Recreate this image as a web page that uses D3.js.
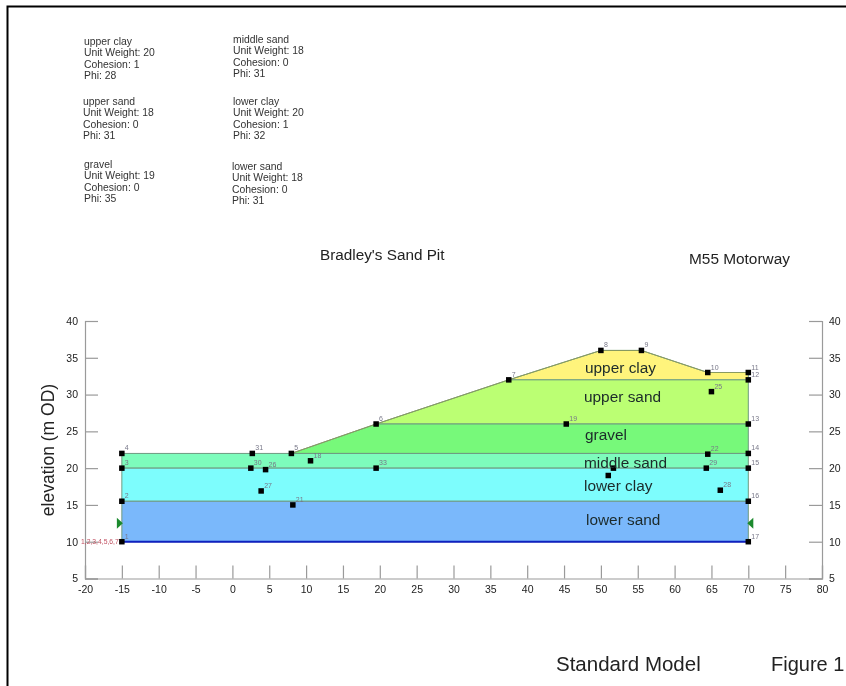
<!DOCTYPE html>
<html>
<head>
<meta charset="utf-8">
<style>
  html, body { margin: 0; padding: 0; background: #fff; }
  svg { display: block; font-family: "Liberation Sans", Arial, sans-serif; }
</style>
</head>
<body>
<script src="https://d3js.org/d3.v7.min.js"></script>
<svg id="chart" width="846" height="686">
  <defs><filter id="soft" x="0" y="0" width="100%" height="100%"><feGaussianBlur stdDeviation="0.45"/></filter></defs>
</svg>
<script>
// soil properties
const soilNames = ['upper clay', 'upper sand', 'gravel', 'middle sand', 'lower clay', 'lower sand'];
const unitWeights = [20, 18, 19, 18, 20, 18];
const cohesions = [1, 0, 0, 0, 1, 0];
const phis = [28, 31, 35, 31, 32, 31];
const soilColors = ['#fff47c', '#bbff73', '#77f97a', '#7dfcbc', '#7dfdfd', '#7ab8fb'];

// layer outlines, [x, elevation]
const upperClay = [[37.5, 32], [50, 36], [55.5, 36], [64.5, 33], [70, 33], [70, 32]];
const upperSand = [[19.5, 26], [37.5, 32], [70, 32], [70, 26]];
const gravel = [[8, 22], [19.5, 26], [70, 26], [70, 22]];
const middleSand = [[-15, 22], [70, 22], [70, 20], [-15, 20]];
const lowerClay = [[-15, 20], [70, 20], [70, 15.5], [-15, 15.5]];
const lowerSand = [[-15, 15.5], [70, 15.5], [70, 10], [-15, 10]];
const layers = [upperClay, upperSand, gravel, middleSand, lowerClay, lowerSand];
const groundSurface = [[8, 22], [19.5, 26], [37.5, 32], [50, 36], [55.5, 36], [64.5, 33], [70, 33]];
const baseLine = [[-15, 10], [70, 10]];

// numbered points, the two under the "middle sand" label show no number
const pointIds = [1, 2, 3, 4, 5, 6, 7, 8, 9, 10, 11, 12, 13, 14, 15, 16, 17, 18, 19, '', 21, 22, '', 25, 26, 27, 28, 29, 30, 31, 33];
const pointX = [-15, -15, -15, -15, 8, 19.5, 37.5, 50, 55.5, 64.5, 70, 70, 70, 70, 70, 70, 70, 10.6, 45.3, 51.7, 8.2, 64.5, 51, 65, 4.5, 3.9, 66.2, 64.3, 2.5, 2.7, 19.5];
const pointY = [10, 15.5, 20, 22, 22, 26, 32, 36, 36, 33, 33, 32, 26, 22, 20, 15.5, 10, 21, 26, 20, 15, 21.9, 19, 30.4, 19.8, 16.9, 17, 20, 20, 22, 20];

const xTicks = d3.range(-20, 81, 5);
const yTicks = d3.range(5, 41, 5);
const waterX = [-15, 70];
const waterY = [12.5, 12.5];

const svg = d3.select('#chart');
const x = d3.scaleLinear().domain([-20, 80]).range([85, 822]);
const y = d3.scaleLinear().domain([5, 40]).range([578.5, 321]);

// page frame
svg.append('path').attr('d', 'M846,6.5H7.5V686').attr('fill', 'none').attr('stroke', '#000').attr('stroke-width', 2);

const content = svg.append('g').attr('filter', 'url(#soft)');

// soil properties text
const noteX = [84, 83, 84, 233, 233, 232];
const noteY = [45, 105, 168, 43, 105, 170];
soilNames.forEach((name, i) => {
  const t = content.append('text').attr('font-size', 10.4).attr('fill', '#333');
  [name, 'Unit Weight: ' + unitWeights[i], 'Cohesion: ' + cohesions[i], 'Phi: ' + phis[i]].forEach((s, j) => {
    t.append('tspan').attr('x', noteX[i]).attr('y', noteY[i] + j * 11.3).text(s);
  });
});

// layers
const line = d3.line().x(d => x(d[0])).y(d => y(d[1]));
content.append('g').selectAll('path').data(layers).enter().append('path')
  .attr('d', d => line(d) + 'Z')
  .attr('fill', (d, i) => soilColors[i])
  .attr('stroke', '#6f9a80')
  .attr('stroke-width', 1);

// ground surface and base
content.append('path').attr('d', line(groundSurface))
  .attr('fill', 'none').attr('stroke', '#8a9a60').attr('stroke-width', 1);
content.append('path').attr('d', line(baseLine))
  .attr('fill', 'none').attr('stroke', '#1020c0').attr('stroke-width', 2);

// axes, plain hyphen on the negative labels
const axisColor = '#9a9a9a';
const tickText = d => String(d);
const axes = [
  d3.axisBottom(x).tickValues(xTicks).tickFormat(tickText).tickSize(-13).tickPadding(7),
  d3.axisLeft(y).tickValues(yTicks).tickFormat(tickText).tickSize(-13).tickPadding(7),
  d3.axisRight(y).tickValues(yTicks).tickFormat(tickText).tickSize(-13).tickPadding(7)
];
const axisPos = [[0, y(5)], [x(-20), 0], [x(80), 0]];
axes.forEach((a, i) => {
  const g = content.append('g').attr('transform', `translate(${axisPos[i]})`).call(a);
  g.selectAll('path, line').attr('stroke', axisColor).attr('stroke-width', 1.2);
  g.selectAll('text').attr('font-size', 10.5).attr('fill', '#222')
    .attr('font-family', '"Liberation Sans", Arial, sans-serif');
});

// points
const pts = content.append('g');
pts.selectAll('rect').data(pointIds).enter().append('rect')
  .attr('x', (d, i) => x(pointX[i]) - 2.75)
  .attr('y', (d, i) => y(pointY[i]) - 2.75)
  .attr('width', 5.5).attr('height', 5.5).attr('fill', '#000');
pts.selectAll('text').data(pointIds).enter().append('text')
  .attr('x', (d, i) => x(pointX[i]) + 3)
  .attr('y', (d, i) => y(pointY[i]) - 3)
  .attr('font-size', 7).attr('fill', '#778').text(d => d);

// water table markers
content.append('g').selectAll('path').data(waterX).enter().append('path')
  .attr('d', (d, i) => {
    const px = x(d), py = y(waterY[i]), s = i === 0 ? 1 : -1;
    return `M${px - 5 * s},${py - 5.5}L${px + s},${py}L${px - 5 * s},${py + 5.5}Z`;
  })
  .attr('fill', '#1d8a2d');

// small red labels left of point 1
content.append('text').attr('x', 81).attr('y', 543.5).attr('font-size', 6.8).attr('fill', '#c05060').text('1,2,3,4,5,6,7');

// layer names
const labelX = [585, 584, 585, 584, 584, 586];
const labelY = [373, 402, 440, 468, 491, 525];
content.append('g').selectAll('text').data(soilNames).enter().append('text')
  .attr('x', (d, i) => labelX[i]).attr('y', (d, i) => labelY[i])
  .attr('font-size', 15.4).attr('fill', '#1c2a2a').text(d => d);

// titles
const titles = ['Bradley\'s Sand Pit', 'M55 Motorway', 'Standard Model', 'Figure 1'];
const titleX = [320, 689, 556, 771];
const titleY = [260, 264, 671, 671];
const titleSize = [15.3, 15.4, 20.5, 20];
content.append('g').selectAll('text').data(titles).enter().append('text')
  .attr('x', (d, i) => titleX[i]).attr('y', (d, i) => titleY[i])
  .attr('font-size', (d, i) => titleSize[i]).attr('fill', '#222').text(d => d);

content.append('text').attr('transform', 'translate(54,450) rotate(-90)')
  .attr('text-anchor', 'middle').attr('font-size', 17.5).attr('fill', '#222').text('elevation (m OD)');
</script>
</body>
</html>
